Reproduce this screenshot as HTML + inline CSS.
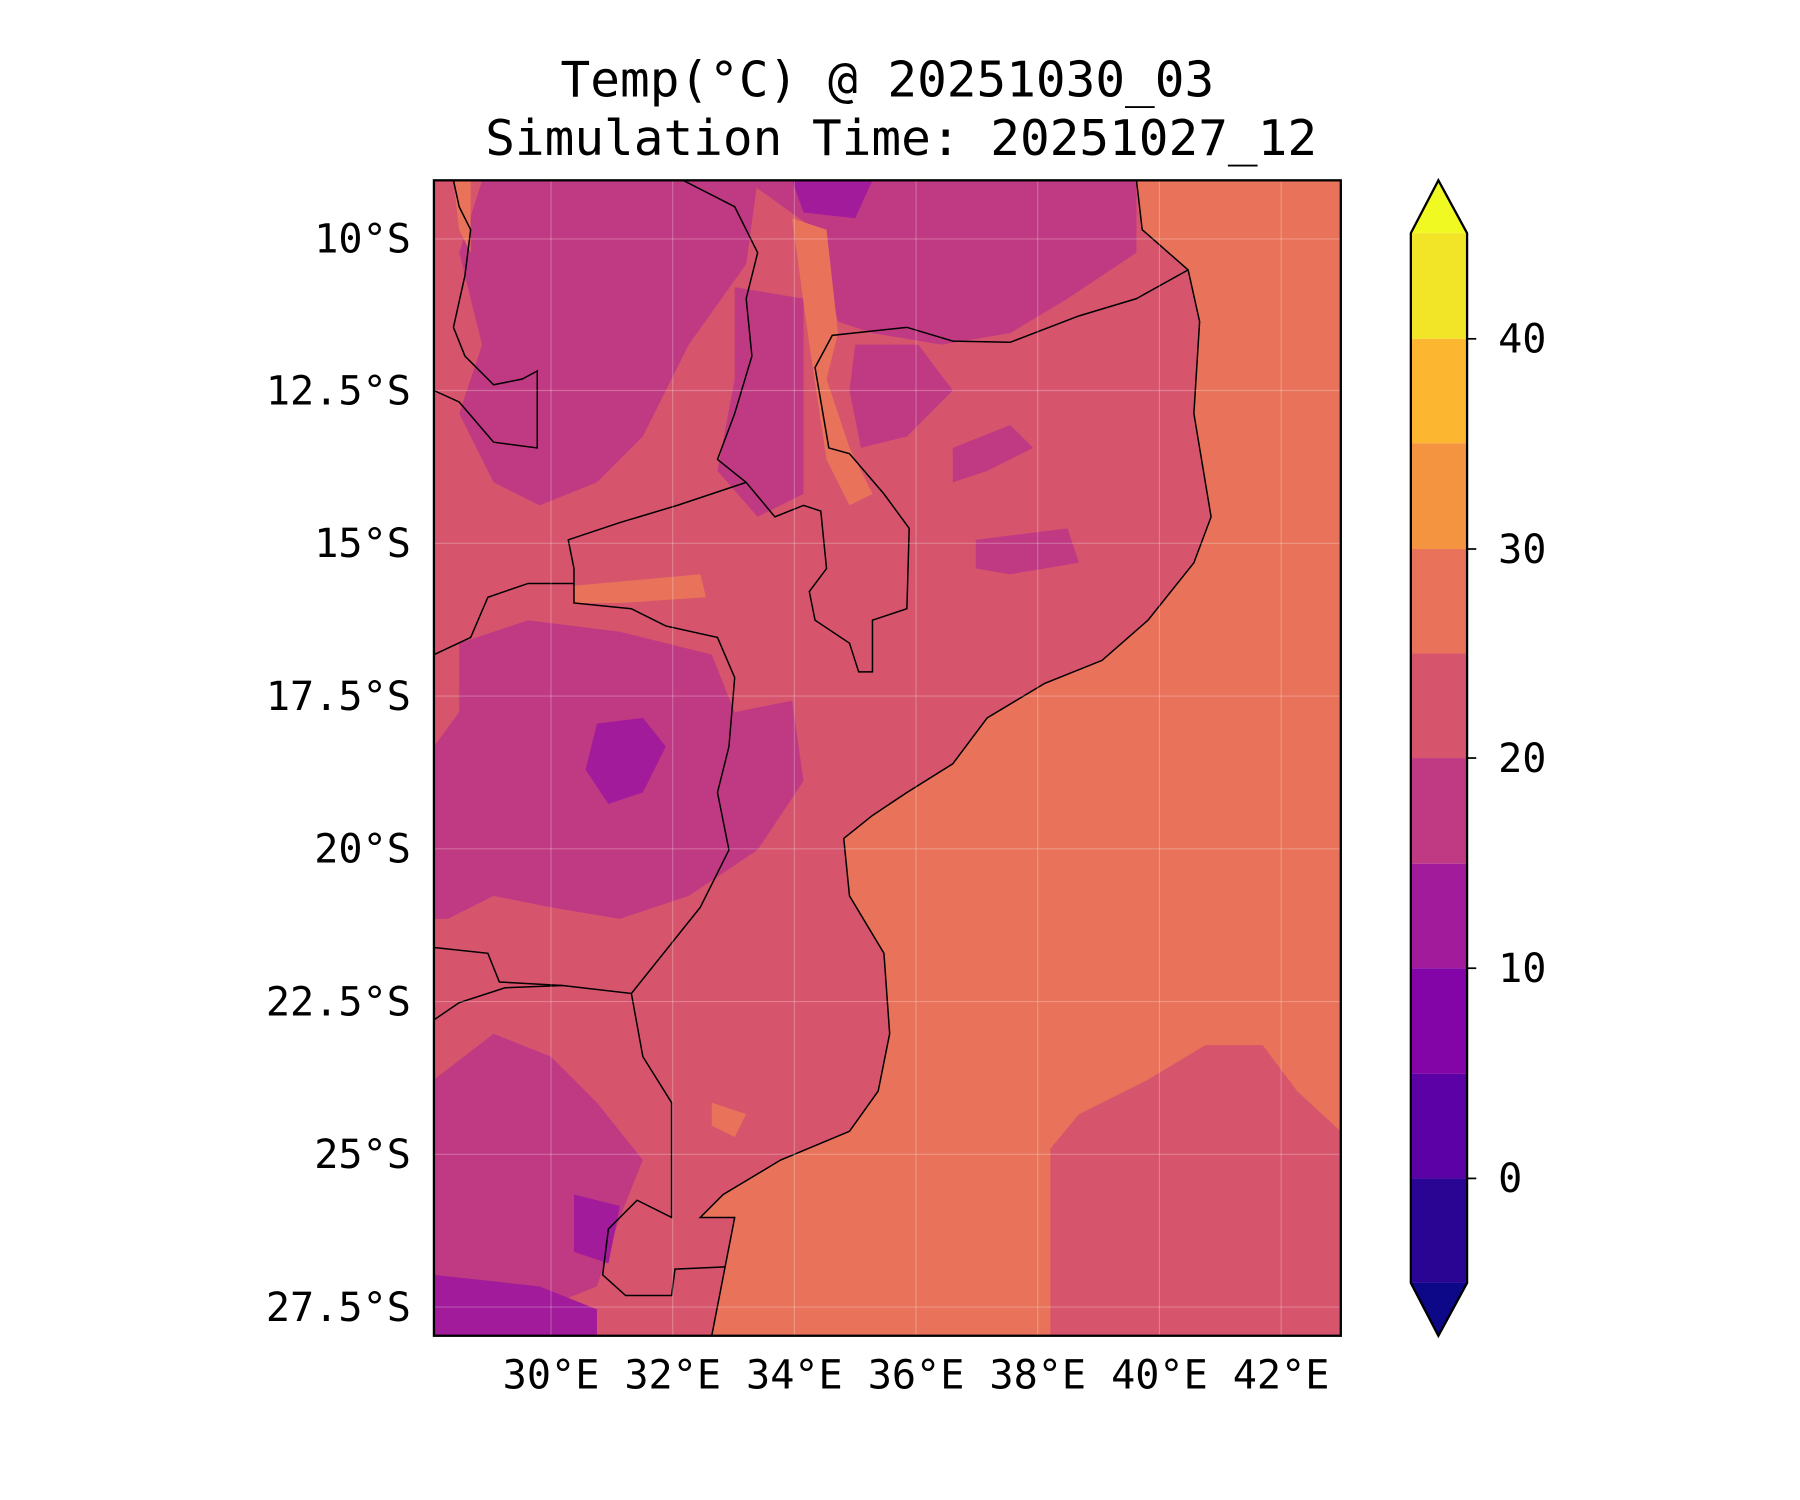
<!DOCTYPE html>
<html><head><meta charset="utf-8"><style>
html,body{margin:0;padding:0;background:#fff;}
svg{display:block;}
text{font-family:"DejaVu Sans Mono","Liberation Mono",monospace;fill:#000;}
</style></head><body>
<svg width="1800" height="1500" viewBox="0 0 1568 1306" preserveAspectRatio="none" xmlns="http://www.w3.org/2000/svg">
<rect width="1568" height="1306" fill="#fff"/>
<text x="773" y="84" font-size="43" text-anchor="middle">Temp(°C) @ 20251030_03</text>
<text x="785" y="135" font-size="43" text-anchor="middle">Simulation Time: 20251027_12</text>
<defs><clipPath id="c"><rect x="378" y="157" width="790" height="1006"/></clipPath></defs>
<g clip-path="url(#c)">
<rect x="378" y="157" width="790" height="1006" fill="#d6556d"/>
<path fill="#c03a83" d="M420,157 L660,157 L650,230 L600,300 L560,380 L520,420 L470,440 L430,420 L400,360 L420,300 L400,220 Z"/>
<path fill="#c03a83" d="M650,157 L990,157 L990,220 L930,260 L880,290 L820,300 L760,290 L730,280 L710,200 Z"/>
<path fill="#c03a83" d="M640,250 L700,260 L700,430 L660,450 L625,410 L640,330 Z"/>
<path fill="#c03a83" d="M745,300 L800,300 L830,340 L790,380 L750,390 L740,340 Z"/>
<path fill="#c03a83" d="M830,390 L880,370 L900,390 L860,410 L830,420 Z"/>
<path fill="#c03a83" d="M850,470 L930,460 L940,490 L880,500 L850,495 Z"/>
<path fill="#c03a83" d="M400,560 L460,540 L540,550 L620,570 L640,620 L690,610 L700,680 L660,740 L600,780 L540,800 L480,790 L430,780 L390,800 L378,800 L378,650 L400,620 Z"/>
<path fill="#c03a83" d="M378,940 L430,900 L480,920 L520,960 L560,1010 L540,1060 L520,1120 L470,1140 L378,1110 Z"/>
<path fill="#a11b9b" d="M378,1110 L470,1120 L520,1140 L520,1163 L378,1163 Z"/>
<path fill="#a11b9b" d="M520,630 L560,625 L580,650 L560,690 L530,700 L510,670 Z"/>
<path fill="#a11b9b" d="M690,157 L760,157 L745,190 L700,185 Z"/>
<path fill="#a11b9b" d="M500,1040 L540,1050 L530,1100 L500,1090 Z"/>
<path fill="#e8735a" d="M690,190 L720,200 L730,290 L720,330 L740,390 L760,430 L740,440 L720,400 L705,300 Z"/>
<path fill="#e8735a" d="M500,510 L610,500 L615,520 L540,525 L500,525 Z"/>
<path fill="#e8735a" d="M395,157 L410,157 L410,220 L400,200 Z"/>
<path fill="#e8735a" d="M620,960 L650,970 L640,990 L620,980 Z"/>
<path fill="#e8735a" d="M990,157 L995,200 L1035,235 L1045,280 L1040,360 L1055,450 L1040,490 L1000,540 L960,575 L910,595 L860,625 L830,665 L790,690 L760,710 L735,730 L740,780 L770,830 L775,900 L765,950 L740,985 L680,1010 L630,1040 L610,1060 L640,1060 L620,1163 L1168,1163 L1168,157 Z"/>
<path fill="#d6556d" d="M915,1163 L915,1000 L940,970 L1000,940 L1050,910 L1100,910 L1130,950 L1168,985 L1168,1163 Z"/>
<g fill="none" stroke="#000" stroke-width="1.3">
<path d="M990,157 L995,200 L1035,235 L1045,280 L1040,360 L1055,450 L1040,490 L1000,540 L960,575 L910,595 L860,625 L830,665 L790,690 L760,710 L735,730 L740,780 L770,830 L775,900 L765,950 L740,985 L680,1010 L630,1040 L610,1060 L640,1060 L620,1163"/>
<path d="M1035,235 L990,260 L940,275 L880,298 L830,297 L790,285 L725,292 L710,320 L722,390 L740,395 L770,430 L792,460 L790,530 L760,540 L760,585 L748,585 L740,560 L710,540 L705,515 L720,495 L715,445 L700,440 L675,450 L650,420 L625,400 L640,360 L655,310 L650,260 L660,220 L640,180 L595,157"/>
<path d="M395,157 L400,180 L410,200 L405,240 L395,285 L405,310 L430,335 L455,330 L468,323 L468,390 L430,385 L400,350 L378,340"/>
<path d="M650,420 L590,440 L540,455 L495,470 L500,495 L500,525 L550,530 L580,545 L625,555 L640,590 L635,650 L625,690 L635,740 L610,790 L550,865 L490,858 L435,855 L425,830 L378,825"/>
<path d="M378,570 L410,555 L425,520 L460,508 L500,508"/>
<path d="M550,865 L560,920 L585,960 L585,1060 L555,1045 L530,1070 L525,1110 L545,1128 L585,1128 L588,1105 L632,1103"/>
<path d="M378,888 L400,873 L440,860 L490,858"/>
</g>
<g stroke="#fff" stroke-opacity="0.25" stroke-width="1">
<line x1="480" y1="157" x2="480" y2="1163"/><line x1="586" y1="157" x2="586" y2="1163"/><line x1="692" y1="157" x2="692" y2="1163"/><line x1="798" y1="157" x2="798" y2="1163"/><line x1="904" y1="157" x2="904" y2="1163"/><line x1="1010" y1="157" x2="1010" y2="1163"/><line x1="1116" y1="157" x2="1116" y2="1163"/>
<line x1="378" y1="208" x2="1168" y2="208"/><line x1="378" y1="340" x2="1168" y2="340"/><line x1="378" y1="473" x2="1168" y2="473"/><line x1="378" y1="606" x2="1168" y2="606"/><line x1="378" y1="739" x2="1168" y2="739"/><line x1="378" y1="872" x2="1168" y2="872"/><line x1="378" y1="1005" x2="1168" y2="1005"/><line x1="378" y1="1138" x2="1168" y2="1138"/>
</g>
</g>
<rect x="378" y="157" width="790" height="1006" fill="none" stroke="#000" stroke-width="2"/>
<g font-size="35" text-anchor="end">
<text x="358" y="220">10°S</text><text x="358" y="352">12.5°S</text><text x="358" y="485">15°S</text><text x="358" y="618">17.5°S</text><text x="358" y="751">20°S</text><text x="358" y="884">22.5°S</text><text x="358" y="1017">25°S</text><text x="358" y="1150">27.5°S</text>
</g>
<g font-size="35" text-anchor="middle">
<text x="480" y="1209">30°E</text><text x="586" y="1209">32°E</text><text x="692" y="1209">34°E</text><text x="798" y="1209">36°E</text><text x="904" y="1209">38°E</text><text x="1010" y="1209">40°E</text><text x="1116" y="1209">42°E</text>
</g>
<polygon points="1229,203 1253,157 1278,203" fill="#f0f921"/>
<rect x="1229" y="203" width="49" height="92" fill="#f2e528"/>
<rect x="1229" y="295" width="49" height="91" fill="#fcb62f"/>
<rect x="1229" y="386" width="49" height="92" fill="#f59440"/>
<rect x="1229" y="478" width="49" height="91" fill="#e8735a"/>
<rect x="1229" y="569" width="49" height="91" fill="#d6556d"/>
<rect x="1229" y="660" width="49" height="92" fill="#c03a83"/>
<rect x="1229" y="752" width="49" height="91" fill="#a11b9b"/>
<rect x="1229" y="843" width="49" height="92" fill="#8305a7"/>
<rect x="1229" y="935" width="49" height="91" fill="#5c01a6"/>
<rect x="1229" y="1026" width="49" height="91" fill="#2a0593"/>
<polygon points="1229,1117 1253,1163 1278,1117" fill="#0d0887"/>
<polygon points="1229,203 1253,157 1278,203 1278,1117 1253,1163 1229,1117" fill="none" stroke="#000" stroke-width="2"/>
<g stroke="#000" stroke-width="1.5">
<line x1="1278" y1="295" x2="1286" y2="295"/><line x1="1278" y1="478" x2="1286" y2="478"/><line x1="1278" y1="660" x2="1286" y2="660"/><line x1="1278" y1="843" x2="1286" y2="843"/><line x1="1278" y1="1026" x2="1286" y2="1026"/>
</g>
<g font-size="35">
<text x="1305" y="307">40</text><text x="1305" y="490">30</text><text x="1305" y="672">20</text><text x="1305" y="855">10</text><text x="1305" y="1038">0</text>
</g>
</svg>
</body></html>
